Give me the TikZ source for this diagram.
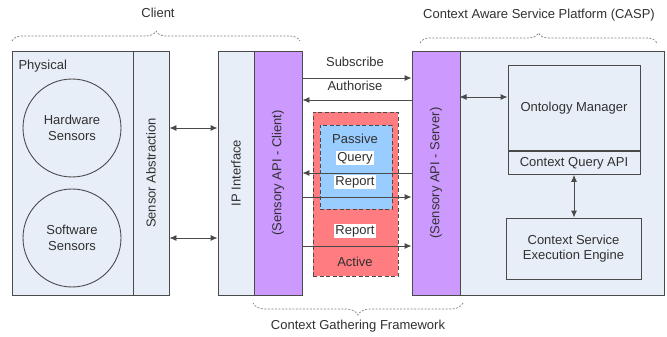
\documentclass[tikz,border=0pt]{standalone}
\usepackage{fontspec}
\setmainfont{Liberation Sans}
\usetikzlibrary{arrows.meta,decorations.pathreplacing,positioning}
\definecolor{lightbg}{HTML}{E8EEF8}
\definecolor{apipurple}{HTML}{CC99FF}
\definecolor{activered}{HTML}{FF7C80}
\definecolor{passiveblue}{HTML}{99CCFF}
\definecolor{edgegray}{HTML}{4A4A4A}
\definecolor{txtgray}{HTML}{303030}

\begin{document}
\begin{tikzpicture}
	[   x=1pt,y=-1pt,
		every node/.style={font=\fontsize{13}{15.6}\selectfont,text=txtgray},
		box/.style={draw=edgegray,line width=0.9pt,fill=#1,inner sep=0pt},
		box/.default=lightbg,
		sensor/.style={draw=edgegray,line width=0.9pt,circle,minimum size=98,inner sep=0pt,align=center},
		dashbox/.style={draw=edgegray,line width=0.9pt,dash pattern=on 4pt off 2.5pt,fill=#1,inner sep=0pt},
		lbl/.style={fill=white,inner sep=1pt},
	]
	\tikzset{normal arrow/.style={draw=edgegray,line width=0.9pt,-{Latex[length=7pt,width=6pt]}},
		both arrow/.style={draw=edgegray,line width=0.9pt,{Latex[length=7pt,width=6pt]}-{Latex[length=7pt,width=6pt]}},
		group brace/.style={draw=gray,line width=0.7pt,dash pattern=on 2pt off 1.5pt,decorate,decoration={brace,amplitude=#1}}}
	\useasboundingbox (0,0) rectangle (667,337);

	% client side
	\node[box,minimum width=121,minimum height=244] (phys) at (72.5,173) {};
	\node[anchor=west] (physlbl) at (15,66) {Physical};
	\node[box,minimum width=36,minimum height=244] (sabs) at (151,173) {};
	\node[rotate=90] at (sabs) {Sensor Abstraction};
	\node[sensor] (hw) at (72,128) {Hardware\\Sensors};
	\node[sensor] (sw) at (72,238) {Software\\Sensors};

	\node[box,minimum width=36,minimum height=244] (ipif) at (236,173) {};
	\node[rotate=90] at (ipif) {IP Interface};
	\node[box=apipurple,minimum width=48,minimum height=244] (apic) at (278,173) {};
	\node[rotate=90] at (apic) {(Sensory API - Client)};

	% platform side
	\node[box=apipurple,minimum width=48,minimum height=244] (apis) at (436,173) {};
	\node[rotate=90] at (apis) {(Sensory API - Server)};
	\node[box,minimum width=204,minimum height=244] (casp) at (562,173) {};
	\node[box,minimum width=132,minimum height=85,anchor=north] (onto) at (574,65) {Ontology Manager};
	\node[box,minimum width=132,minimum height=23,anchor=north] (cqapi) at (onto.south) {Context Query API};
	\node[box,minimum width=135,minimum height=61,align=center] (csee) at (573.5,248.5) {Context Service\\Execution Engine};

	% query modes
	\node[dashbox=activered,minimum width=85,minimum height=164] (active) at (355.5,194) {};
	\node[dashbox=passiveblue,minimum width=72,minimum height=84] (passive) at (356,167) {};
	\node (passivelbl) at (355,139) {Passive};
	\node (activelbl) at (355,262) {Active};

	% connectors
	\path[both arrow] (sabs.east |- hw) -- (ipif.west |- hw);
	\path[both arrow] (sabs.east |- sw) -- (ipif.west |- sw);
	\path[both arrow] (casp.west |- 0,97) -- (onto.west |- 0,97);
	\path[both arrow] (cqapi.south) -- (cqapi.south |- csee.north);

	\path[normal arrow] (apic.east |- 0,78) -- (apis.west |- 0,78);
	\path[normal arrow] (apis.west |- 0,100) -- (apic.east |- 0,100);
	\node (subscr) at (355,62) {Subscribe};
	\node[lbl] (authr) at (355,86) {Authorise};

	\path[normal arrow] (apis.west |- 0,173) -- (apic.east |- 0,173);
	\path[normal arrow] (apic.east |- 0,197) -- (apis.west |- 0,197);
	\path[normal arrow] (apic.east |- 0,246) -- (apis.west |- 0,246);
	\node[lbl] (query) at (355,158) {Query};
	\node[lbl] (prep) at (355,182) {Report};
	\node[lbl] (arep) at (355,231) {Report};

	% groups
	\path[group brace=10] (12,41) -- (300,41);
	\node (client) at (158,13) {Client};
	\path[group brace=10] (420,43) -- (657,43);
	\node (casplbl) at (539,15) {Context Aware Service Platform (CASP)};
	\path[group brace=12] (463,303) -- (253,303);
	\node (cgf) at (358,326) {Context Gathering Framework};

\end{tikzpicture}
\end{document}
